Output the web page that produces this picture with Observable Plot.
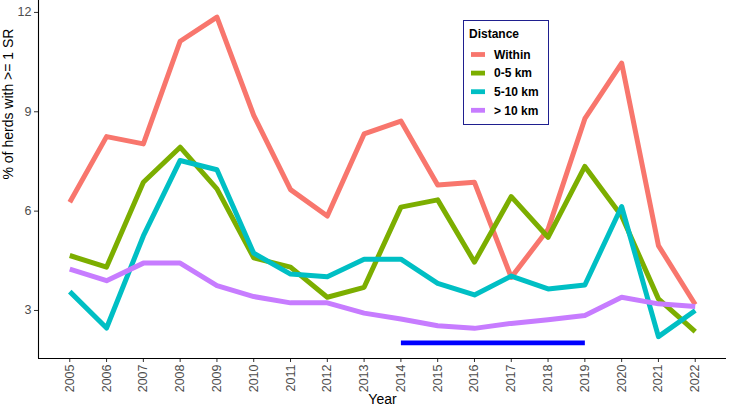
<!DOCTYPE html>
<html>
<head>
<meta charset="utf-8">
<script src="https://cdn.jsdelivr.net/npm/d3@7"></script>
<script src="https://cdn.jsdelivr.net/npm/@observablehq/plot@0.6"></script>
<style>
  html, body { margin: 0; padding: 0; background: #fff; }
  #chart { position: relative; width: 734px; height: 409px; font-family: "Liberation Sans", Arial, sans-serif; }
  #legend { position: absolute; left: 463px; top: 20px; }
</style>
</head>
<body>
<div id="chart"><svg id="legend" width="87" height="106"></svg></div>
<script>
// Share of herds with at least one SR, by distance band and year
const years = [2005, 2006, 2007, 2008, 2009, 2010, 2011, 2012, 2013, 2014, 2015, 2016, 2017, 2018, 2019, 2020, 2021, 2022];
const distances = ["Within", "0-5 km", "5-10 km", "> 10 km"];
const colors = ["#F8766D", "#7CAE00", "#00BFC4", "#C77CFF"];

const within = [6.27, 8.25, 8.03, 11.13, 11.86, 8.89, 6.65, 5.85, 8.33, 8.72, 6.79, 6.87, 4.0, 5.45, 8.79, 10.47, 4.96, 3.18];
const km0to5 = [4.66, 4.31, 6.87, 7.93, 6.67, 4.59, 4.31, 3.4, 3.7, 6.12, 6.34, 4.46, 6.44, 5.21, 7.35, 5.85, 3.35, 2.36];
const km5to10 = [3.57, 2.47, 5.25, 7.53, 7.25, 4.73, 4.1, 4.02, 4.55, 4.55, 3.82, 3.47, 4.04, 3.65, 3.77, 6.14, 2.21, 3.0];
const km10plus = [4.25, 3.9, 4.43, 4.43, 3.75, 3.42, 3.23, 3.23, 2.92, 2.74, 2.54, 2.46, 2.61, 2.72, 2.85, 3.4, 3.2, 3.12];

// Highlighted period shown as a bar under the curves
const period = {start: 2014, end: 2019, level: 2.02};

const yTicks = [3, 6, 9, 12];

const seriesValues = [within, km0to5, km5to10, km10plus];
const rows = distances.flatMap((d, i) =>
  years.map((year, j) => ({distance: d, year, value: seriesValues[i][j]}))
);

const xDomain = [years[0] - 0.85, years[years.length - 1] + 0.85];
const yDomain = [1.55, 12.36];

const font = `"Liberation Sans", Arial, sans-serif`;

const plot = Plot.plot({
  width: 734,
  height: 409,
  marginLeft: 38,
  marginRight: 8,
  marginTop: 0,
  marginBottom: 51,
  style: {fontFamily: font, fontSize: "12.5px", background: "white", overflow: "visible"},
  x: {type: "linear", domain: xDomain},
  y: {domain: yDomain},
  color: {domain: distances, range: colors},
  marks: [
    Plot.axisX(years, {
      tickSize: 4, tickPadding: 2, tickRotate: -90, tickFormat: d => String(d),
      label: null, stroke: "#333", fill: "#4D4D4D", fontSize: 12.5
    }),
    Plot.axisY(yTicks, {
      tickSize: 4, tickPadding: 3, label: null, stroke: "#333", fill: "#4D4D4D", fontSize: 12.5
    }),
    Plot.ruleX([xDomain[0]], {stroke: "black", strokeWidth: 1.1}),
    Plot.ruleY([yDomain[0]], {stroke: "black", strokeWidth: 1.1}),
    Plot.line(rows, {
      x: "year", y: "value", z: "distance", stroke: "distance",
      strokeWidth: 5, strokeLinejoin: "round", strokeLinecap: "butt"
    }),
    Plot.link([period], {
      x1: "start", x2: "end", y1: "level", y2: "level",
      stroke: "#0000FF", strokeWidth: 4.8, strokeLinecap: "butt"
    }),
    Plot.text(["% of herds with >= 1 SR"], {
      frameAnchor: "left", rotate: -90, dx: -30, fontSize: 14, fill: "black"
    }),
    Plot.text(["Year"], {
      frameAnchor: "bottom", dy: 45, fontSize: 14, fill: "black"
    })
  ]
});

const chart = document.getElementById("chart");
chart.insertBefore(plot, chart.firstChild);

// Legend box inside the panel
const color = plot.scale("color");
const legend = d3.select("#legend");
legend.append("rect")
  .attr("x", 0.5).attr("y", 0.5).attr("width", 85).attr("height", 104)
  .attr("fill", "white").attr("stroke", "#1f1f8f").attr("stroke-width", 1);
legend.append("text")
  .attr("x", 6).attr("y", 18)
  .attr("font-family", font).attr("font-size", 12).attr("font-weight", "bold")
  .text("Distance");
distances.forEach((d, i) => {
  const cy = 34.5 + i * 18.6;
  legend.append("rect")
    .attr("x", 8).attr("y", cy - 2.4).attr("width", 14).attr("height", 4.8)
    .attr("fill", color.apply(d));
  legend.append("text")
    .attr("x", 31).attr("y", cy + 4.3)
    .attr("font-family", font).attr("font-size", 12).attr("font-weight", "bold")
    .text(d);
});
</script>
</body>
</html>
